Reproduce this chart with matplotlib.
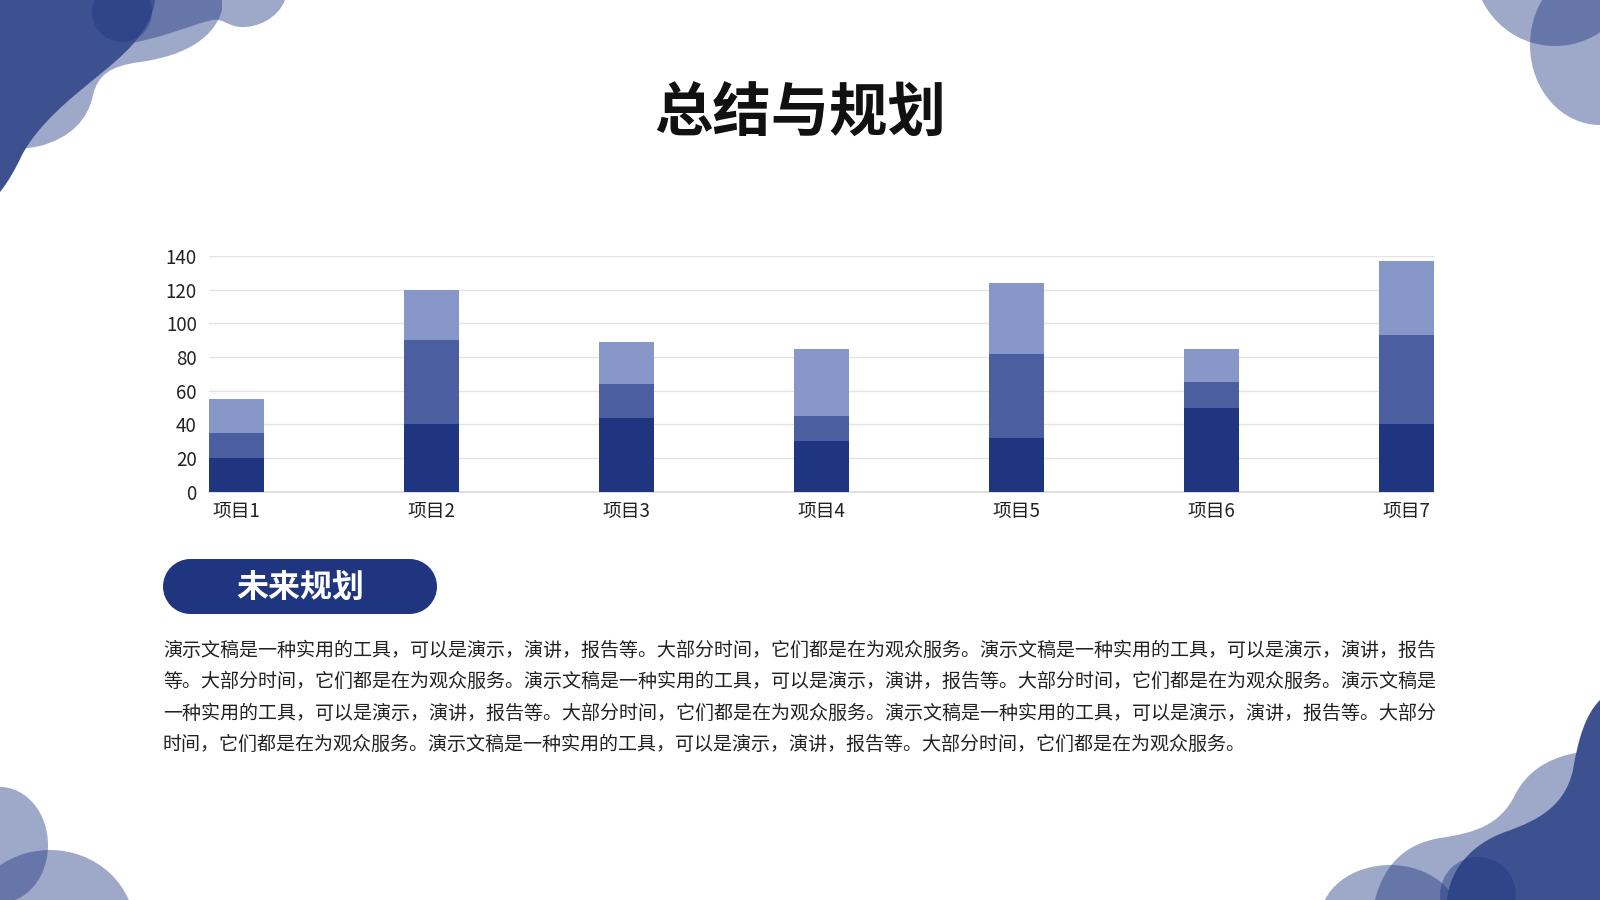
import matplotlib
matplotlib.use("Agg")
import matplotlib.pyplot as plt
from matplotlib.path import Path
from matplotlib.patches import PathPatch, Ellipse
import numpy as np

plt.rcParams['font.family'] = ['Noto Sans CJK SC', 'DejaVu Sans']

# chart data
categories = ['项目1', '项目2', '项目3', '项目4', '项目5', '项目6', '项目7']
series1 = [20, 40, 44, 30, 32, 50, 40]
series2 = [15, 50, 20, 15, 50, 15, 53]
series3 = [20, 30, 25, 40, 42, 20, 44]
y_ticks = [0, 20, 40, 60, 80, 100, 120, 140]

title = '总结与规划'
section = '未来规划'
body_lines = [
    '演示文稿是一种实用的工具，可以是演示，演讲，报告等。大部分时间，它们都是在为观众服务。演示文稿是一种实用的工具，可以是演示，演讲，报告',
    '等。大部分时间，它们都是在为观众服务。演示文稿是一种实用的工具，可以是演示，演讲，报告等。大部分时间，它们都是在为观众服务。演示文稿是',
    '一种实用的工具，可以是演示，演讲，报告等。大部分时间，它们都是在为观众服务。演示文稿是一种实用的工具，可以是演示，演讲，报告等。大部分',
    '时间，它们都是在为观众服务。演示文稿是一种实用的工具，可以是演示，演讲，报告等。大部分时间，它们都是在为观众服务。',
]

NAVY = '#1F3580'
MID = '#4B5FA0'
LIGHT = '#8797C8'
BLOB_DARK = '#3D5090'

fig = plt.figure(figsize=(16, 9), dpi=100)
fig.patch.set_facecolor('white')

# background layer in pixel coordinates (y down)
bg = fig.add_axes([0, 0, 1, 1], zorder=0)
bg.set_xlim(0, 1600)
bg.set_ylim(900, 0)
bg.axis('off')


def blob(verts, codes, color, alpha=1.0):
    bg.add_patch(PathPatch(Path(verts, codes), facecolor=color, edgecolor='none', alpha=alpha))


M, L, C, Z = Path.MOVETO, Path.LINETO, Path.CURVE4, Path.CLOSEPOLY

# top-left corner
blob([(0, 0), (222, 0), (222, 10),
      (215, 35), (190, 55), (140, 62),
      (110, 66), (98, 75), (93, 95),
      (88, 120), (70, 138), (40, 146),
      (25, 149), (10, 150), (0, 150), (0, 0)],
     [M, L, L, C, C, C, C, C, C, C, C, C, C, C, C, Z], NAVY, 0.43)
blob([(100, 0), (285, 0),
      (278, 18), (258, 28), (240, 27),
      (228, 26), (222, 18), (212, 20),
      (190, 25), (165, 38), (120, 45),
      (100, 45), (100, 0)],
     [M, L, C, C, C, C, C, C, C, C, C, L, Z], NAVY, 0.43)
blob([(0, 0), (155, 0),
      (150, 40), (110, 65), (75, 95),
      (45, 120), (30, 140), (22, 155),
      (15, 170), (8, 182), (0, 192), (0, 0)],
     [M, L, C, C, C, C, C, C, C, C, C, Z], BLOB_DARK)
bg.add_patch(Ellipse((122, 12), 60, 60, facecolor=NAVY, alpha=0.43, edgecolor='none'))

# top-right corner
bg.add_patch(Ellipse((1555, -35), 162, 162, facecolor=NAVY, alpha=0.43, edgecolor='none'))
bg.add_patch(Ellipse((1600, 45), 140, 160, facecolor=NAVY, alpha=0.43, edgecolor='none'))

# bottom-right corner
bg.add_patch(Ellipse((1390, 920), 140, 110, facecolor=NAVY, alpha=0.43, edgecolor='none'))
blob([(1600, 750),
      (1560, 752), (1530, 765), (1515, 795),
      (1500, 825), (1475, 833), (1440, 838),
      (1410, 843), (1385, 860), (1375, 900),
      (1600, 900), (1600, 750)],
     [M, C, C, C, C, C, C, C, C, C, L, Z], NAVY, 0.43)
blob([(1600, 700),
      (1585, 715), (1578, 740), (1573, 770),
      (1565, 805), (1540, 820), (1505, 832),
      (1470, 845), (1450, 870), (1447, 900),
      (1600, 900), (1600, 700)],
     [M, C, C, C, C, C, C, C, C, C, L, Z], BLOB_DARK)
bg.add_patch(Ellipse((1478, 895), 76, 76, facecolor=NAVY, alpha=0.43, edgecolor='none'))

# bottom-left corner
bg.add_patch(Ellipse((0, 845), 96, 116, facecolor=NAVY, alpha=0.43, edgecolor='none'))
bg.add_patch(Ellipse((50, 930), 170, 160, facecolor=NAVY, alpha=0.43, edgecolor='none'))

# section pill
bg.add_patch(Ellipse((163 + 27.5, 586.5), 55, 55, facecolor=NAVY, edgecolor='none'))
bg.add_patch(Ellipse((437 - 27.5, 586.5), 55, 55, facecolor=NAVY, edgecolor='none'))
bg.add_patch(plt.Rectangle((163 + 27.5, 559), 274 - 55, 55, facecolor=NAVY, edgecolor='none'))

# texts
fig.text(0.5, 1 - 115 / 900, title, ha='center', va='center',
         fontsize=42, fontweight='heavy', color='#111111')
fig.text(300 / 1600, 1 - 588 / 900, section, ha='center', va='center',
         fontsize=23, fontweight='bold', color='white')
for i, line in enumerate(body_lines):
    fig.text(163 / 1600, 1 - (650 + i * 31.6) / 900, line, ha='left', va='center',
             fontsize=13.7, color='#222222')

# chart
ax = fig.add_axes([209.3 / 1600, 1 - 491.7 / 900, (1433.7 - 209.3) / 1600, (491.7 - 256) / 900],
                  zorder=2)
ax.patch.set_alpha(0)
x = np.arange(len(categories))
w = 0.2785
b2 = np.array(series1)
b3 = b2 + np.array(series2)
ax.bar(x, series1, w, color=NAVY, zorder=3)
ax.bar(x, series2, w, bottom=b2, color=MID, zorder=3)
ax.bar(x, series3, w, bottom=b3, color=LIGHT, zorder=3)

ax.set_xlim(-w / 2, len(categories) - 1 + w / 2)
ax.set_ylim(0, 140)
ax.set_yticks(y_ticks)
ax.set_xticks(x)
ax.set_xticklabels(categories)
ax.tick_params(axis='both', length=0, labelsize=13.5, colors='#222222')
ax.tick_params(axis='y', pad=9)
ax.tick_params(axis='x', pad=6.5)
ax.grid(axis='y', color='#E4E4E4', linewidth=1, zorder=0)
ax.set_axisbelow(True)
for s in ['top', 'right', 'left']:
    ax.spines[s].set_visible(False)
ax.spines['bottom'].set_color('#D9D9D9')
ax.spines['bottom'].set_linewidth(1.2)

fig.savefig('out.png', dpi=100)
